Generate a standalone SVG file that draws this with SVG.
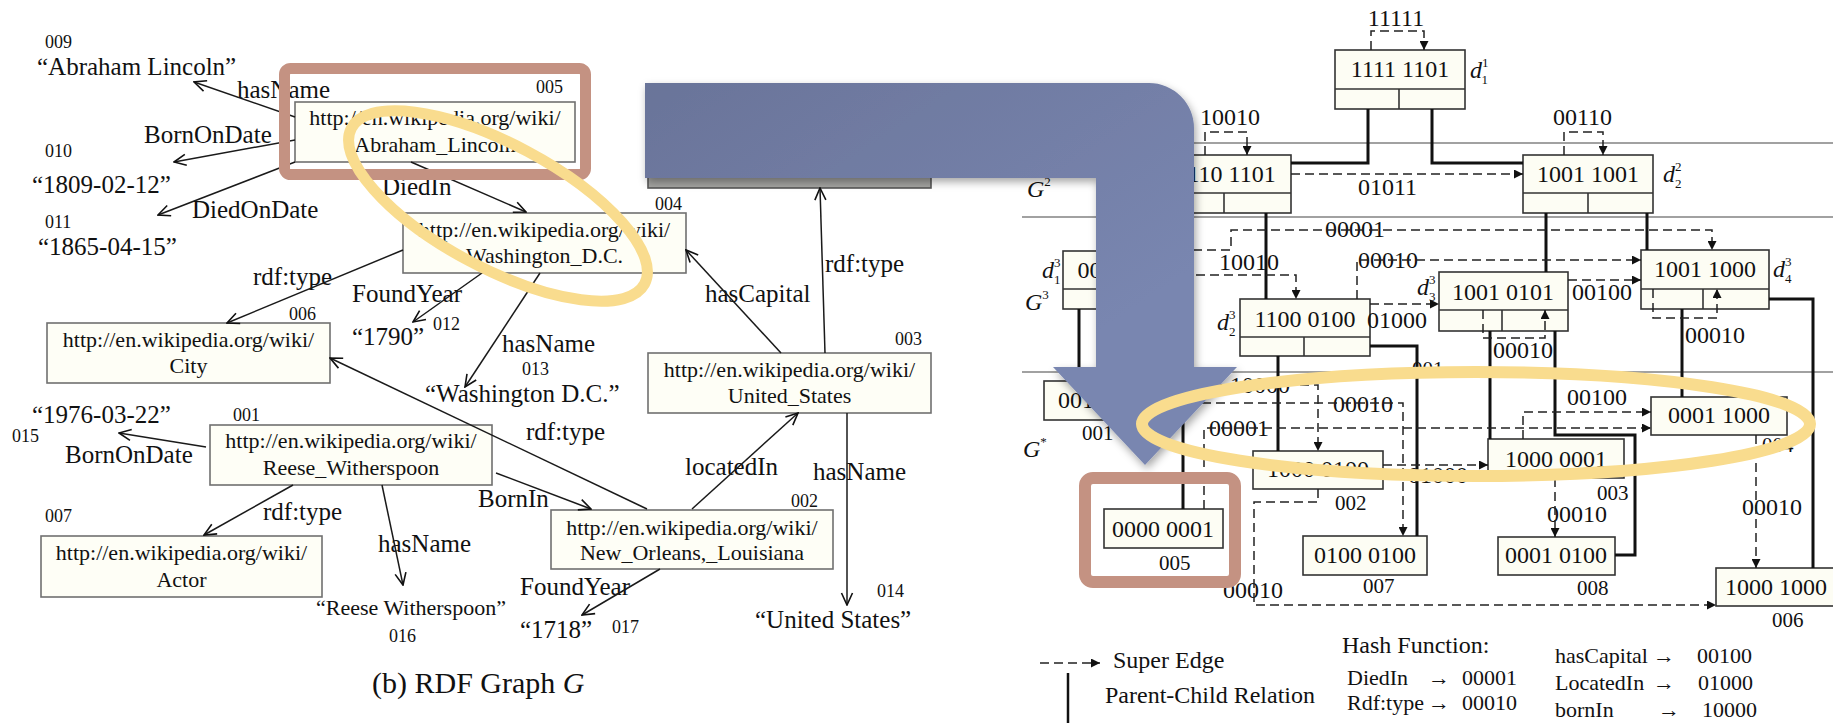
<svg xmlns="http://www.w3.org/2000/svg" width="1833" height="723" viewBox="0 0 1833 723">
<defs>
<style>
text{font-family:"Liberation Serif","Times New Roman",serif;fill:#111}
.lb{font-size:25px}
.id{font-size:18px}
.bt{font-size:22px;text-anchor:middle}
.lbox{fill:#FEFEF6;stroke:#707070;stroke-width:1.6}
.e{fill:none;stroke:#1a1a1a;stroke-width:1.5;marker-end:url(#oa)}
.rbox{fill:#FDFDF4;stroke:#333;stroke-width:1.6}
.sep{stroke:#333;stroke-width:1.6}
.rt{font-size:24px}
.rc{font-size:24px;text-anchor:middle}
.ri{font-size:21px}
.it{font-style:italic;font-size:24px}
.sp{font-size:13px;font-style:normal}
.pc{fill:none;stroke:#111;stroke-width:3}
.se{fill:none;stroke:#222;stroke-width:1.5;stroke-dasharray:9 5}
.sa{marker-end:url(#fa)}
.ln{stroke:#444;stroke-width:1.2}
.lg{font-size:24px}
.lgs{font-size:22px}
</style>
<marker id="oa" viewBox="0 0 14 14" refX="13" refY="7" markerWidth="14" markerHeight="14" markerUnits="userSpaceOnUse" orient="auto"><path d="M1,1.5 L13,7 L1,12.5" fill="none" stroke="#111" stroke-width="1.6"/></marker>
<marker id="fa" viewBox="0 0 10 10" refX="10" refY="5" markerWidth="10" markerHeight="9" markerUnits="userSpaceOnUse" orient="auto"><path d="M0,0 L10,5 L0,10 Z" fill="#111"/></marker>
<linearGradient id="bg" gradientUnits="userSpaceOnUse" x1="645" y1="83" x2="900" y2="465"><stop offset="0" stop-color="#6A7499"/><stop offset="1" stop-color="#7986B0"/></linearGradient>
<filter id="sh" x="-10%" y="-10%" width="130%" height="130%"><feDropShadow dx="2" dy="4" stdDeviation="4" flood-color="#000" flood-opacity="0.35"/></filter>
</defs>

<!-- LEFT RDF GRAPH NODES -->
<g id="n005"><rect class="lbox" x="295" y="102" width="280" height="60"/><text class="bt" x="435" y="125">http://en.wikipedia.org/wiki/</text><text class="bt" x="435" y="152">Abraham_Lincoln</text><text class="id" x="536" y="93">005</text></g>
<g id="n004"><rect class="lbox" x="403" y="213" width="283" height="60"/><text class="bt" x="544.5" y="237">http://en.wikipedia.org/wiki/</text><text class="bt" x="544.5" y="263">Washington_D.C.</text><text class="id" x="655" y="210">004</text></g>
<g id="n006"><rect class="lbox" x="47" y="323" width="283" height="60"/><text class="bt" x="188.5" y="347">http://en.wikipedia.org/wiki/</text><text class="bt" x="188.5" y="373">City</text><text class="id" x="289" y="320">006</text></g>
<g id="n003"><rect class="lbox" x="648" y="353" width="283" height="60"/><text class="bt" x="789.5" y="377">http://en.wikipedia.org/wiki/</text><text class="bt" x="789.5" y="403">United_States</text><text class="id" x="895" y="345">003</text></g>
<g id="n001"><rect class="lbox" x="210" y="425" width="282" height="60"/><text class="bt" x="351" y="448">http://en.wikipedia.org/wiki/</text><text class="bt" x="351" y="475">Reese_Witherspoon</text><text class="id" x="233" y="421">001</text></g>
<g id="n002"><rect class="lbox" x="551" y="510" width="282" height="59"/><text class="bt" x="692" y="535">http://en.wikipedia.org/wiki/</text><text class="bt" x="692" y="560">New_Orleans,_Louisiana</text><text class="id" x="791" y="507">002</text></g>
<g id="n007"><rect class="lbox" x="41" y="536" width="281" height="61"/><text class="bt" x="181.5" y="560">http://en.wikipedia.org/wiki/</text><text class="bt" x="181.5" y="587">Actor</text><text class="id" x="45" y="522">007</text></g>
<g id="n008"><rect x="648" y="128" width="283" height="60" fill="#A4A4A1" stroke="#555" stroke-width="1.6"/></g>
<g id="lit009"><text class="id" x="45" y="48">009</text><text class="lb" x="37" y="75">“Abraham Lincoln”</text></g>
<g id="lit010"><text class="id" x="45" y="157">010</text><text class="lb" x="32" y="193">“1809-02-12”</text></g>
<g id="lit011"><text class="id" x="45" y="228">011</text><text class="lb" x="38" y="255">“1865-04-15”</text></g>
<g id="lit012"><text class="lb" x="352" y="345">“1790”</text><text class="id" x="433" y="330">012</text></g>
<g id="lit013"><text class="id" x="522" y="375">013</text><text class="lb" x="425" y="402">“Washington D.C.”</text></g>
<g id="lit014"><text class="id" x="877" y="597">014</text><text class="lb" x="755" y="628">“United States”</text></g>
<g id="lit015"><text class="lb" x="32" y="423">“1976-03-22”</text><text class="id" x="12" y="442">015</text></g>
<g id="lit016"><text x="316" y="615" font-size="22">“Reese Witherspoon”</text><text class="id" x="389" y="642">016</text></g>
<g id="lit017"><text class="lb" x="520" y="638">“1718”</text><text class="id" x="612" y="633">017</text></g>

<g id="left-labels">
<text class="lb" x="237" y="98">hasName</text>
<text class="lb" x="144" y="143">BornOnDate</text>
<text class="lb" x="192" y="218">DiedOnDate</text>
<text class="lb" x="382" y="195">DiedIn</text>
<text class="lb" x="253" y="285">rdf:type</text>
<text class="lb" x="352" y="302">FoundYear</text>
<text class="lb" x="502" y="352">hasName</text>
<text class="lb" x="705" y="302">hasCapital</text>
<text class="lb" x="825" y="272">rdf:type</text>
<text class="lb" x="526" y="440">rdf:type</text>
<text class="lb" x="65" y="463">BornOnDate</text>
<text class="lb" x="478" y="507">BornIn</text>
<text class="lb" x="685" y="475">locatedIn</text>
<text class="lb" x="813" y="480">hasName</text>
<text class="lb" x="263" y="520">rdf:type</text>
<text class="lb" x="378" y="552">hasName</text>
<text class="lb" x="520" y="595">FoundYear</text>
<text x="372" y="693" font-size="30">(b) RDF Graph <tspan font-style="italic">G</tspan></text>
</g>

<g id="left-connectors">
<path class="e" d="M295,117 L194,82"/>
<path class="e" d="M295,140 L174,162"/>
<path class="e" d="M295,162 L158,215"/>
<path class="e" d="M411,162 L526,212"/>
<path class="e" d="M403,250 L227,323"/>
<path class="e" d="M482,273 L413,322"/>
<path class="e" d="M540,273 L465,387"/>
<path class="e" d="M781,353 L686,250"/>
<path class="e" d="M825,353 L820,188"/>
<path class="e" d="M847,413 L847,605"/>
<path class="e" d="M692,509 L798,413"/>
<path class="e" d="M647,509 L330,358"/>
<path class="e" d="M660,569 L582,615"/>
<path class="e" d="M206,447 L119,433"/>
<path class="e" d="M496,473 L591,509"/>
<path class="e" d="M293,485 L204,535"/>
<path class="e" d="M382,485 L403,585"/>
</g>

<!-- RIGHT: layer lines -->
<g id="layers">
<line class="ln" x1="1022" y1="143" x2="1833" y2="143"/>
<line class="ln" x1="1022" y1="217" x2="1833" y2="217"/>
<line class="ln" x1="1022" y1="372" x2="1833" y2="372"/>
<text class="it" x="1027" y="197">G<tspan class="sp" dy="-11">2</tspan></text>
<text class="it" x="1025" y="310">G<tspan class="sp" dy="-11">3</tspan></text>
<text class="it" x="1023" y="457">G<tspan class="sp" dy="-11">*</tspan></text>
</g>

<g id="d11"><rect class="rbox" x="1335" y="50" width="130" height="59"/><line class="sep" x1="1335" y1="89" x2="1465" y2="89"/><line class="sep" x1="1399" y1="89" x2="1399" y2="109"/><text class="rc" x="1400" y="77">1111 1101</text><text class="it" x="1470" y="78">d<tspan class="sp" dy="-11">1</tspan><tspan class="sp" dx="-6.5" dy="17">1</tspan></text></g>
<g id="d12"><rect class="rbox" x="1161" y="155" width="130" height="58"/><line class="sep" x1="1161" y1="193" x2="1291" y2="193"/><line class="sep" x1="1224" y1="193" x2="1224" y2="213"/><text class="rc" x="1226" y="182">1110 1101</text></g>
<g id="d22"><rect class="rbox" x="1523" y="155" width="130" height="58"/><line class="sep" x1="1523" y1="193" x2="1653" y2="193"/><line class="sep" x1="1588" y1="193" x2="1588" y2="213"/><text class="rc" x="1588" y="182">1001 1001</text><text class="it" x="1663" y="182">d<tspan class="sp" dy="-11">2</tspan><tspan class="sp" dx="-6.5" dy="17">2</tspan></text></g>
<g id="d13"><rect class="rbox" x="1063" y="251" width="130" height="58"/><line class="sep" x1="1063" y1="289" x2="1193" y2="289"/><line class="sep" x1="1127" y1="289" x2="1127" y2="309"/><text class="rc" x="1128" y="278">0011 0010</text><text class="it" x="1042" y="278">d<tspan class="sp" dy="-11">3</tspan><tspan class="sp" dx="-6.5" dy="17">1</tspan></text></g>
<g id="d23"><rect class="rbox" x="1240" y="299" width="130" height="57"/><line class="sep" x1="1240" y1="337" x2="1370" y2="337"/><line class="sep" x1="1304" y1="337" x2="1304" y2="356"/><text class="rc" x="1305" y="327">1100 0100</text><text class="it" x="1217" y="330">d<tspan class="sp" dy="-11">3</tspan><tspan class="sp" dx="-6.5" dy="17">2</tspan></text></g>
<g id="d33"><rect class="rbox" x="1439" y="272" width="129" height="59"/><line class="sep" x1="1439" y1="310" x2="1568" y2="310"/><line class="sep" x1="1502" y1="310" x2="1502" y2="331"/><text class="rc" x="1503" y="300">1001 0101</text><text class="it" x="1417" y="295">d<tspan class="sp" dy="-11">3</tspan><tspan class="sp" dx="-6.5" dy="17">3</tspan></text></g>
<g id="d43"><rect class="rbox" x="1641" y="250" width="128" height="59"/><line class="sep" x1="1641" y1="289" x2="1769" y2="289"/><line class="sep" x1="1703" y1="289" x2="1703" y2="309"/><text class="rc" x="1705" y="277">1001 1000</text><text class="it" x="1773" y="277">d<tspan class="sp" dy="-11">3</tspan><tspan class="sp" dx="-6.5" dy="17">4</tspan></text></g>

<g id="g001"><rect class="rbox" x="1044" y="381" width="130" height="39"/><text class="rc" x="1109" y="408">0010 0010</text><text class="ri" x="1082" y="440">001</text></g>
<g id="g005"><rect class="rbox" x="1104" y="509" width="119" height="39"/><text class="rc" x="1163" y="537">0000 0001</text><text class="ri" x="1159" y="570">005</text></g>
<g id="g002"><rect class="rbox" x="1253" y="451" width="130" height="38"/><text class="rc" x="1318" y="477">1000 0100</text><text class="ri" x="1335" y="510">002</text></g>
<g id="g007"><rect class="rbox" x="1303" y="536" width="124" height="39"/><text class="rc" x="1365" y="563">0100 0100</text><text class="ri" x="1363" y="593">007</text></g>
<g id="g003"><rect class="rbox" x="1488" y="439" width="136" height="39"/><text class="rc" x="1556" y="467">1000 0001</text><text class="ri" x="1597" y="500">003</text></g>
<g id="g008"><rect class="rbox" x="1498" y="537" width="117" height="38"/><text class="rc" x="1556" y="563">0001 0100</text><text class="ri" x="1577" y="595">008</text></g>
<g id="g004"><rect class="rbox" x="1651" y="397" width="136" height="38"/><text class="rc" x="1719" y="423">0001 1000</text><text class="ri" x="1762" y="452">004</text></g>
<g id="g006"><rect class="rbox" x="1716" y="568" width="125" height="38"/><text class="rc" x="1776" y="595">1000 1000</text><text class="ri" x="1772" y="627">006</text></g>

<g id="right-labels">
<text class="rc" x="1396" y="26">11111</text>
<text class="rt" x="1200" y="125">10010</text>
<text class="rt" x="1553" y="125">00110</text>
<text class="rt" x="1358" y="195">01011</text>
<text class="rt" x="1325" y="237">00001</text>
<text class="rt" x="1219" y="270">10010</text>
<text class="rt" x="1358" y="268">00010</text>
<text class="rt" x="1367" y="328">01000</text>
<text class="rt" x="1572" y="300">00100</text>
<text class="rt" x="1493" y="358">00010</text>
<text class="rt" x="1685" y="343">00010</text>
<text class="ri" x="1412" y="376">001</text>
<text class="rt" x="1230" y="393">10000</text>
<text class="rt" x="1333" y="412">00010</text>
<text class="rt" x="1209" y="436">00001</text>
<text class="rt" x="1408" y="483">01000</text>
<text class="rt" x="1567" y="405">00100</text>
<text class="rt" x="1547" y="522">00010</text>
<text class="rt" x="1742" y="515">00010</text>
<text class="rt" x="1223" y="598">00010</text>
</g>

<g id="right-connectors">
<path class="pc" d="M1368,109 V163 H1291"/>
<path class="pc" d="M1432,109 V163 H1523"/>
<path class="pc" d="M1266,213 V299"/>
<path class="pc" d="M1546,213 V272"/>
<path class="pc" d="M1647,213 V250"/>
<path class="pc" d="M1079,309 V381"/>
<path class="pc" d="M1183,309 V509"/>
<path class="pc" d="M1278,356 V451"/>
<path class="pc" d="M1370,346 H1417 V536"/>
<path class="pc" d="M1490,331 V439"/>
<path class="pc" d="M1555,331 V435 H1635 V555 H1615"/>
<path class="pc" d="M1682,309 V397"/>
<path class="pc" d="M1769,299 H1813 V568"/>
<path class="se sa" d="M1371,50 V31 H1424 V50"/>
<path class="se sa" d="M1205,155 V132 H1247 V155"/>
<path class="se sa" d="M1564,155 V132 H1603 V155"/>
<path class="se sa" d="M1291,174 H1523"/>
<path class="se sa" d="M1193,250 H1231 V230 H1712 V250"/>
<path class="se sa" d="M1193,250 V275 H1296 V299"/>
<path class="se sa" d="M1357,299 V260 H1641"/>
<path class="se sa" d="M1370,304 H1439"/>
<path class="se sa" d="M1568,280 H1641"/>
<path class="se sa" d="M1483,310 V338 H1545 V310"/>
<path class="se sa" d="M1653,289 V318 H1717 V289"/>
<path class="se sa" d="M1174,385 H1318 V451"/>
<path class="se sa" d="M1174,403 H1403 V536"/>
<path class="se sa" d="M1204,509 V428 H1651"/>
<path class="se sa" d="M1318,489 V502 H1254 V605 H1716"/>
<path class="se sa" d="M1383,465 H1488"/>
<path class="se sa" d="M1523,439 V412 H1651"/>
<path class="se sa" d="M1555,478 V537"/>
<path class="se sa" d="M1756,435 V568"/>
</g>

<g id="legend">
<path class="se sa" d="M1040,663 H1100"/>
<line x1="1068" y1="673" x2="1068" y2="723" stroke="#111" stroke-width="2.5"/>
<text class="lg" x="1113" y="668">Super Edge</text>
<text class="lg" x="1105" y="703">Parent-Child Relation</text>
<text class="lg" x="1342" y="653">Hash Function:</text>
<text class="lgs" x="1347" y="685">DiedIn</text><text class="lgs" x="1428" y="685">→</text><text class="lgs" x="1462" y="685">00001</text>
<text class="lgs" x="1347" y="710">Rdf:type</text><text class="lgs" x="1428" y="710">→</text><text class="lgs" x="1462" y="710">00010</text>
<text class="lgs" x="1555" y="663">hasCapital</text><text class="lgs" x="1653" y="663">→</text><text class="lgs" x="1697" y="663">00100</text>
<text class="lgs" x="1555" y="690">LocatedIn</text><text class="lgs" x="1653" y="690">→</text><text class="lgs" x="1698" y="690">01000</text>
<text class="lgs" x="1555" y="717">bornIn</text><text class="lgs" x="1658" y="717">→</text><text class="lgs" x="1702" y="717">10000</text>
</g>

<g id="overlay">
<path d="M645,83 H1149 A45,45 0 0 1 1194,128 V367 H1237 L1145,465 L1053,367 H1096 V178 H645 Z" fill="url(#bg)" filter="url(#sh)"/>
<rect x="284.5" y="68.5" width="301" height="106" rx="6" fill="none" stroke="#C49282" stroke-width="11"/>
<rect x="1085" y="478" width="150" height="104" rx="8" fill="none" stroke="#C49282" stroke-width="12"/>
<ellipse cx="498" cy="206" rx="166" ry="62" transform="rotate(28 498 206)" fill="none" stroke="#F9DC8E" stroke-width="11"/>
<ellipse cx="1476" cy="424" rx="334" ry="52" fill="none" stroke="#F9DC8E" stroke-width="12"/>
</g>
</svg>
